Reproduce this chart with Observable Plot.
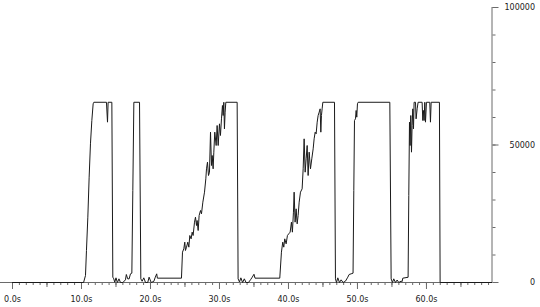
<!DOCTYPE html>
<html>
<head>
<meta charset="utf-8">
<script src="https://cdn.jsdelivr.net/npm/d3@7"></script>
<script src="https://cdn.jsdelivr.net/npm/@observablehq/plot@0.6"></script>
<style>
  html, body { margin: 0; padding: 0; background: #fff; }
</style>
</head>
<body>
<div id="chart"></div>
<script>
// time in seconds
const times = [
  0, 10.3, 10.58, 10.72, 10.92, 11.11, 11.3, 11.5, 11.69, 11.79,
  13.62, 13.77, 13.86, 14.4, 14.54, 14.68, 14.82, 15.0, 15.2, 15.43,
  15.65, 16.0, 16.37, 16.5, 16.7, 16.9, 17.1, 17.3, 17.44, 17.59,
  18.41, 18.6, 18.79, 19.03, 19.28, 19.6, 19.8, 20.1, 20.48, 20.7,
  20.9, 21.0, 24.49,
  24.64, 24.83, 24.97, 25.07, 25.22, 25.41, 25.56, 25.7, 25.89, 26.04,
  26.18, 26.38, 26.52, 26.67, 26.76, 26.91, 27.05, 27.25, 27.39, 27.59,
  27.83, 28.02, 28.12, 28.26, 28.41, 28.55, 28.7, 28.84, 28.94, 29.08,
  29.18, 29.32, 29.52, 29.66, 29.81, 30.0, 30.14, 30.29, 30.43, 30.53,
  30.63, 30.72, 30.82, 30.92,
  32.56, 32.7, 32.9, 33.1, 33.35, 33.6, 33.85, 34.2, 34.5, 34.75,
  35.0, 35.15, 38.74,
  38.98, 39.17, 39.32, 39.46, 39.66, 39.85, 40.04, 40.24, 40.43, 40.57,
  40.72, 40.82, 40.96, 41.11, 41.26, 41.4, 41.55, 41.74, 41.98, 42.13,
  42.27, 42.42, 42.56, 42.71, 42.85, 43.0, 43.19, 43.38, 43.58, 43.72,
  43.87, 44.01, 44.16, 44.3, 44.45, 44.59, 44.69, 44.78, 44.88, 44.98,
  46.67, 46.81, 46.96, 47.15, 47.39, 47.63, 47.92, 48.26, 48.6, 48.79,
  49.08, 49.36, 49.47, 49.57, 49.71, 49.81, 49.9, 50.0, 50.1,
  54.69, 54.88, 55.07, 55.26, 55.51, 55.75, 55.99, 56.33, 56.47, 56.57,
  57.34, 57.44, 57.54, 57.63, 57.73, 57.83, 57.92, 58.02, 58.12, 58.21,
  58.41, 58.5, 58.65, 58.79, 59.37, 59.47, 59.57, 59.66, 59.76, 59.86,
  60.0, 60.48, 60.58, 60.68, 61.88, 61.98, 69.45
];
// counter value
const values = [
  0, 0, 2545, 11636, 23758, 38303, 50424, 58909, 64970, 65535,
  65535, 58303, 65535, 65535, 1939, 1333, 100, 1697, 0, 1333,
  0, 0, 970, 2909, 1333, 1300, 3152, 3394, 33454, 65535,
  65535, 1333, 450, 1697, 0, 0, 1939, 0, 400, 1939,
  3152, 1576, 1576,
  11030, 12242, 14667, 11636, 12848, 14667, 12848, 17091, 15879, 18303,
  17091, 21939, 23758, 20727, 22545, 18909, 24364, 26182, 24970, 29212,
  32848, 37697, 41333, 43758, 38909, 40121, 54667, 42545, 46182, 41333,
  47394, 54667, 49818, 57091, 49818, 57697, 53455, 59515, 64364, 60727,
  65535, 55879, 61939, 65535,
  65535, 1333, 200, 1697, 0, 1333, 0, 0, 1000, 1939,
  3000, 1576, 1576,
  11030, 14667, 12848, 15879, 14061, 17091, 17697, 18303, 21939, 18303,
  25576, 32848, 21939, 26788, 21333, 24364, 29212, 32848, 34061, 41333,
  52242, 40121, 44970, 49818, 38909, 47394, 41333, 44970, 48606, 52242,
  54667, 54061, 58303, 60727, 61939, 63152, 54667, 60727, 63152, 65535,
  65535, 1333, 0, 1697, 0, 970, 0, 485, 1939, 2909,
  3152, 3394, 33454, 58909, 59515, 62545, 60121, 64970, 65535,
  65535, 1333, 0, 1333, 0, 900, 0, 500, 300, 1576,
  1900, 31636, 58303, 49818, 60727, 47394, 57091, 63152, 55879, 65535,
  65535, 59515, 63152, 65535, 65535, 58909, 62545, 58909, 65535, 58303,
  65535, 65535, 58303, 65535, 65535, 0, 0
];
const xTicksMajor = [0, 10, 20, 30, 40, 50, 60];
const xTicksMid = [5, 15, 25, 35, 45, 55, 65];
const xTicksMinor = d3.range(0, 70, 1);
const yTicksMajor = [0, 50000, 100000];
const yTicksMinor = d3.range(0, 100001, 10000);
const xMax = 69.5;

const data = times.map((t, i) => ({t, v: values[i]}));
const axisColor = "#6a6a6a";

const chart = Plot.plot({
  width: 540,
  height: 307,
  marginLeft: 12,
  marginRight: 48.5,
  marginTop: 7,
  marginBottom: 25,
  x: {domain: [0, xMax], label: null},
  y: {domain: [0, 100000], label: null},
  style: {fontFamily: "DejaVu Sans", fontSize: "8px", background: "#fff", color: "#222"},
  marks: [
    Plot.ruleY([0], {stroke: axisColor, insetLeft: -12}),
    Plot.ruleX([xMax], {stroke: axisColor}),
    Plot.axisX({ticks: xTicksMinor, tickSize: 3, stroke: axisColor, tickFormat: () => "", label: null}),
    Plot.axisX({ticks: xTicksMid, tickSize: 5, stroke: axisColor, tickFormat: () => "", label: null}),
    Plot.axisX({ticks: xTicksMajor, tickSize: 7, tickPadding: 7, stroke: axisColor, fill: "#222",
      tickFormat: d => d.toFixed(1) + "s", label: null}),
    Plot.axisY({anchor: "right", ticks: yTicksMinor, tickSize: 3, stroke: axisColor, tickFormat: () => "", label: null}),
    Plot.axisY({anchor: "right", ticks: yTicksMajor, tickSize: 6, tickPadding: 37, textAnchor: "end",
      stroke: axisColor, fill: "#222", tickFormat: d => String(d), label: null}),
    Plot.line(data, {x: "t", y: "v", stroke: "#1a1a1a", strokeWidth: 1})
  ]
});
document.getElementById("chart").appendChild(chart);
</script>
</body>
</html>
